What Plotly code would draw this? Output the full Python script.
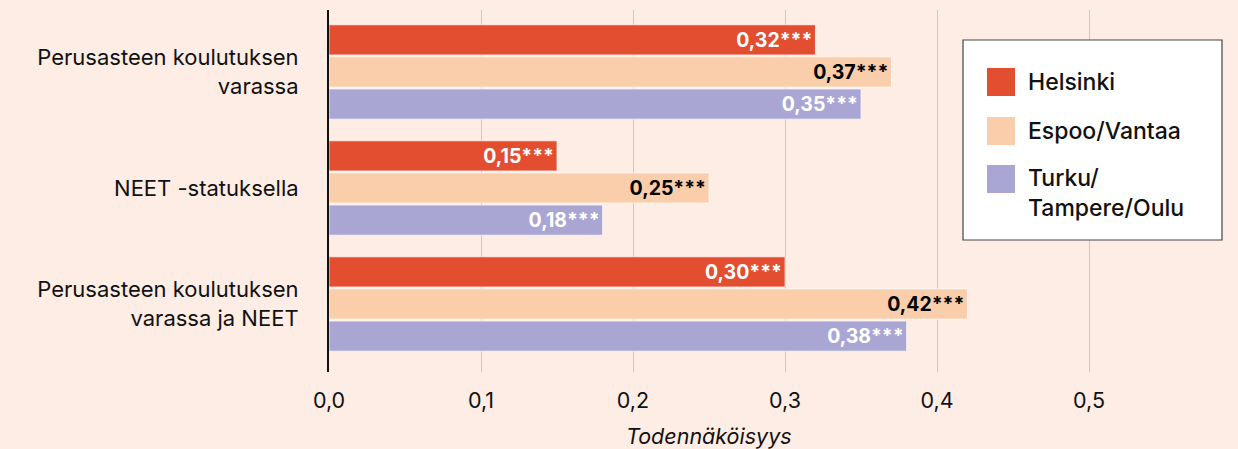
import plotly.graph_objects as go

categories = ["Perusasteen koulutuksen<br>varassa", "NEET -statuksella", "Perusasteen koulutuksen<br>varassa ja NEET"]
series_names = ["Helsinki", "Espoo/Vantaa", "Turku/<br>Tampere/Oulu"]
helsinki = [0.32, 0.15, 0.30]
espoo_vantaa = [0.37, 0.25, 0.42]
turku_tampere_oulu = [0.35, 0.18, 0.38]
stars = ["***", "***", "***"]
x_ticks = [0.0, 0.1, 0.2, 0.3, 0.4, 0.5]
x_tick_labels = ["0,0", "0,1", "0,2", "0,3", "0,4", "0,5"]
x_title = "Todennäköisyys"

colors = ["#E34D30", "#FACDAB", "#A9A6D3"]
text_colors = ["white", "black", "white"]
BG = "#FDEDE4"
FONT = "Inter"

W, H = 1238, 449
ML, MR, MT, MB = 329, 0, 10, 77
PW, PH = W - ML - MR, H - MT - MB

def px(x):
    return (x - ML) / PW

def py(y):
    return (H - MB - y) / PH

def fmt(v, s):
    return f"{v:.2f}".replace(".", ",") + s

fig = go.Figure()
for name, vals, c, tc in zip(series_names, [helsinki, espoo_vantaa, turku_tampere_oulu], colors, text_colors):
    fig.add_trace(go.Bar(
        y=categories, x=vals, orientation="h", name=name,
        marker=dict(color=c, line=dict(color="rgba(255,255,255,0.7)", width=1)),
        text=[fmt(v, s) for v, s in zip(vals, stars)],
        textposition="inside", insidetextanchor="end",
        textfont=dict(family=FONT, size=19.5, color=tc, weight="bold"),
        constraintext="none", showlegend=False,
    ))

fig.update_layout(
    width=W, height=H,
    margin=dict(l=ML, r=MR, t=MT, b=MB),
    paper_bgcolor=BG, plot_bgcolor=BG,
    barmode="group", bargap=0.17, bargroupgap=0.06,
    font=dict(family=FONT, color="#111111"),
    uniformtext=dict(mode=False),
)
fig.update_xaxes(
    range=[0, 0.598], tickvals=x_ticks, ticktext=x_tick_labels,
    showgrid=True, gridcolor="#CFC6C1", gridwidth=1, zeroline=False,
    tickfont=dict(family=FONT, size=21.5, color="#111111"),
    ticks="", ticklabelstandoff=13,
    fixedrange=True,
)
fig.update_yaxes(
    type="category", categoryorder="array", categoryarray=categories,
    range=[2.586, -0.534], showline=True, linecolor="#111111", linewidth=2,
    showgrid=False, ticks="", ticklabelstandoff=24,
    tickfont=dict(family=FONT, size=22, color="#111111"),
)

# manual legend
shapes = [dict(type="rect", xref="paper", yref="paper",
               x0=px(963), x1=px(1222), y0=py(240), y1=py(40),
               fillcolor="white", line=dict(color="#444444", width=1.2), layer="above")]
annotations = [dict(xref="paper", yref="paper", x=px(709), y=py(436), text=x_title,
                    showarrow=False, xanchor="center", yanchor="middle",
                    font=dict(family=FONT, size=21.5, color="#111111", style="italic"))]
centers = [82, 131, 179]
for name, c, cy in zip(series_names, colors, centers):
    shapes.append(dict(type="rect", xref="paper", yref="paper",
                       x0=px(987), x1=px(1015), y0=py(cy + 14), y1=py(cy - 14),
                       fillcolor=c, line=dict(width=0), layer="above"))
    if "<br>" in name:
        annotations.append(dict(xref="paper", yref="paper", x=px(1026), y=py(cy - 17),
                                text=name, showarrow=False, xanchor="left", yanchor="top",
                                align="left", font=dict(family=FONT, size=23, color="#111111", weight=500)))
    else:
        annotations.append(dict(xref="paper", yref="paper", x=px(1026), y=py(cy),
                                text=name, showarrow=False, xanchor="left", yanchor="middle",
                                align="left", font=dict(family=FONT, size=23, color="#111111", weight=500)))
fig.update_layout(shapes=shapes, annotations=annotations)

fig.write_html("out.html", config={"displayModeBar": False},
               post_script="document.body.style.margin='0px';")
